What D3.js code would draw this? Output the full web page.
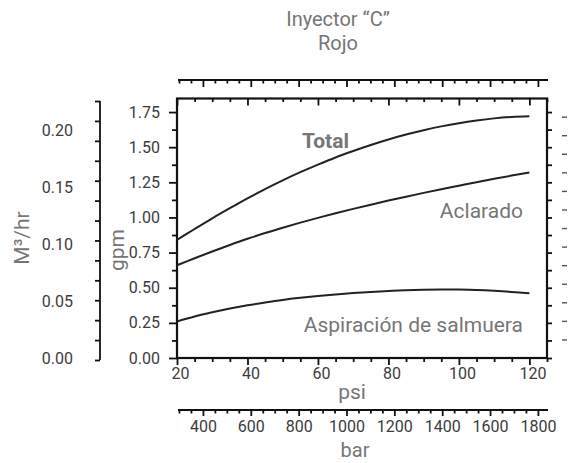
<!DOCTYPE html>
<style>
body { margin: 0; background: #fff; }
svg { display: block; }
.num { font: 16px Roboto, sans-serif; fill: #3c3c3c; }
.lbl { font: 21px Roboto, sans-serif; fill: #767676; }
.axis .domain { stroke: #111; stroke-width: 2; }
.axis line { stroke: #111; stroke-width: 1.8; }
</style>
<svg width="568" height="463"></svg>
<script src="https://cdnjs.cloudflare.com/ajax/libs/d3/7.8.5/d3.min.js"></script>
<script>

// data (gpm against psi)
var psi        = [20, 25, 30, 35, 40, 45, 50, 55, 60, 65, 70, 75, 80, 85, 90, 95, 100, 105, 110, 115, 120];
var total      = [0.84, 0.918, 0.994, 1.066, 1.136, 1.202, 1.264, 1.322, 1.376, 1.427, 1.473, 1.516, 1.555, 1.590, 1.621, 1.648, 1.671, 1.690, 1.705, 1.715, 1.72];
var aclarado   = [0.66, 0.71, 0.758, 0.804, 0.848, 0.889, 0.927, 0.963, 0.997, 1.03, 1.061, 1.091, 1.12, 1.148, 1.175, 1.201, 1.226, 1.251, 1.275, 1.298, 1.32];
var aspiracion = [0.26, 0.295, 0.325, 0.352, 0.375, 0.395, 0.413, 0.428, 0.441, 0.452, 0.462, 0.470, 0.477, 0.482, 0.486, 0.488, 0.487, 0.484, 0.478, 0.470, 0.46];

var psiLabels = [20, 40, 60, 80, 100, 120];
var barLabels = [400, 600, 800, 1000, 1200, 1400, 1600, 1800];
var gpmLabels = [0, 0.25, 0.5, 0.75, 1.0, 1.25, 1.5, 1.75];
var m3Labels  = [0, 0.05, 0.10, 0.15, 0.20];

var svg = d3.select("svg");

var box = {left: 177, right: 547, top: 98.5, bottom: 358};

var x = d3.scaleLinear().domain([20, 125]).range([box.left, box.right]);
var y = d3.scaleLinear().domain([0, 1.85]).range([box.bottom, 98]);
var xb = d3.scaleLinear().domain([300, 1838]).range([box.left + 2, box.right]);
var m3 = d3.scaleLinear().domain([0, 0.2275]).range([360, 101]);
var lpm = d3.scaleLinear().domain([0, 1.85 * 3.785]).range([box.bottom, 98]);

var psiMinor = d3.range(20, 125.1, 5).filter(function(v) { return psiLabels.indexOf(v) < 0; });
var gpmMinor = d3.range(0.125, 1.85, 0.25);
var barMinor = d3.range(300, 1840, 50).filter(function(v) { return v % 200 != 0; });
var m3Minor  = d3.range(0, 0.228, 0.0175);

function ticksOnly(axis, g) {
  g.call(axis);
  g.select(".domain").remove();
  g.selectAll("text").remove();
}

// ---- m3/hr axis, far left
var gm = svg.append("g").attr("class", "axis").attr("transform", "translate(100,0)");
ticksOnly(d3.axisLeft(m3).tickValues(m3Minor).tickSize(5), gm);
gm.append("line").attr("x1", 0).attr("x2", 0).attr("y1", m3(0)).attr("y2", m3(m3Minor[m3Minor.length - 1]));
svg.append("g").selectAll("text").data(m3Labels).enter().append("text")
    .attr("class", "num")
    .attr("x", 73).attr("y", function(d) { return m3(d) - 2; })
    .attr("dy", "0.35em").attr("text-anchor", "end")
    .text(function(d) { return d3.format(".2f")(d); });

// ---- gpm axis, left of the box
var gl = svg.append("g").attr("class", "axis").attr("transform", "translate(" + box.left + ",0)");
ticksOnly(d3.axisLeft(y).tickValues(gpmMinor).tickSize(5), gl);
var gl2 = svg.append("g").attr("class", "axis").attr("transform", "translate(" + box.left + ",0)")
    .call(d3.axisLeft(y).tickValues(gpmLabels).tickSize(8).tickPadding(9).tickFormat(d3.format(".2f")));
gl2.select(".domain").remove();
gl2.selectAll("text").attr("class", "num").attr("fill", null);

// ---- right side of the box, inward ticks
var gr = svg.append("g").attr("class", "axis").attr("transform", "translate(" + box.right + ",0)");
ticksOnly(d3.axisLeft(y).tickValues(gpmMinor.concat(gpmLabels)).tickSize(-5), gr);

// ---- cut-off axis at the very right edge
var gx = svg.append("g").attr("class", "axis").attr("transform", "translate(562,0)");
ticksOnly(d3.axisRight(lpm).tickValues(d3.range(0.5, 7, 0.5)).tickSize(5), gx);
gx.selectAll("line").style("stroke", "#555").style("stroke-width", 1.4);

// ---- psi axis, bottom of the box
var gb = svg.append("g").attr("class", "axis").attr("transform", "translate(0," + box.bottom + ")");
ticksOnly(d3.axisBottom(x).tickValues(psiMinor).tickSize(4), gb);
var gb2 = svg.append("g").attr("class", "axis").attr("transform", "translate(0," + box.bottom + ")")
    .call(d3.axisBottom(x).tickValues(psiLabels).tickSize(7).tickPadding(3));
gb2.select(".domain").remove();
gb2.selectAll("text").attr("class", "num").attr("fill", null).attr("dx", 3);

// ---- top of the box, inward ticks
var gt = svg.append("g").attr("class", "axis").attr("transform", "translate(0," + box.top + ")");
ticksOnly(d3.axisTop(x).tickValues(psiMinor).tickSize(-3.5), gt);
var gt2 = svg.append("g").attr("class", "axis").attr("transform", "translate(0," + box.top + ")");
ticksOnly(d3.axisTop(x).tickValues(psiLabels).tickSize(-7), gt2);

// ---- top scale above the box
var ga = svg.append("g").attr("class", "axis").attr("transform", "translate(0,80)");
ticksOnly(d3.axisBottom(xb).tickValues(barMinor).tickSize(3.5), ga);
var ga2 = svg.append("g").attr("class", "axis").attr("transform", "translate(0,80)");
ticksOnly(d3.axisBottom(xb).tickValues(barLabels).tickSize(7), ga2);
ga.append("line").attr("x1", xb(300) - 1).attr("x2", xb.range()[1] + 1);

// ---- bar scale under the chart
var gbar = svg.append("g").attr("class", "axis").attr("transform", "translate(0,410)");
ticksOnly(d3.axisBottom(xb).tickValues(barMinor).tickSize(3.5), gbar);
var gbar2 = svg.append("g").attr("class", "axis").attr("transform", "translate(0,410)")
    .call(d3.axisBottom(xb).tickValues(barLabels).tickSize(6).tickPadding(5).tickFormat(d3.format("d")));
gbar2.select(".domain").remove();
gbar2.selectAll("text").attr("class", "num").attr("fill", null);
gbar.append("line").attr("x1", xb(300) - 1).attr("x2", xb.range()[1] + 1);

// ---- the box
svg.append("rect")
    .attr("x", box.left).attr("y", box.top)
    .attr("width", box.right - box.left).attr("height", box.bottom - box.top)
    .attr("fill", "none").attr("stroke", "#111").attr("stroke-width", 2.2);

// ---- curves
var line = d3.line()
    .x(function(d, i) { return x(psi[i]); })
    .y(function(d) { return y(d); })
    .curve(d3.curveCatmullRom);

[total, aclarado, aspiracion].forEach(function(s) {
  svg.append("path").datum(s)
      .attr("d", line)
      .attr("fill", "none")
      .attr("stroke", "#222")
      .attr("stroke-width", 2);
});

// ---- labels
svg.append("text").attr("class", "lbl").attr("x", 302).attr("y", 148)
    .style("font-weight", "bold").text("Total");
svg.append("text").attr("class", "lbl").attr("x", 523).attr("y", 218)
    .attr("text-anchor", "end").text("Aclarado");
svg.append("text").attr("class", "lbl").attr("x", 523).attr("y", 332)
    .attr("text-anchor", "end").text("Aspiración de salmuera");

svg.append("text").attr("class", "lbl").attr("x", 338).attr("y", 26)
    .style("font-size", "20px")
    .attr("text-anchor", "middle").text("Inyector “C”");
svg.append("text").attr("class", "lbl").attr("x", 338).attr("y", 50)
    .style("font-size", "20px")
    .attr("text-anchor", "middle").text("Rojo");

svg.append("text").attr("class", "lbl").attr("x", 352).attr("y", 399)
    .attr("text-anchor", "middle").text("psi");
svg.append("text").attr("class", "lbl").attr("x", 355).attr("y", 457)
    .style("font-size", "20px")
    .attr("text-anchor", "middle").text("bar");

svg.append("text").attr("class", "lbl")
    .attr("transform", "translate(124,250) rotate(-90)")
    .attr("text-anchor", "middle").text("gpm");
svg.append("text").attr("class", "lbl")
    .attr("transform", "translate(29,238) rotate(-90)")
    .attr("text-anchor", "middle").text("M³/hr");

</script>
